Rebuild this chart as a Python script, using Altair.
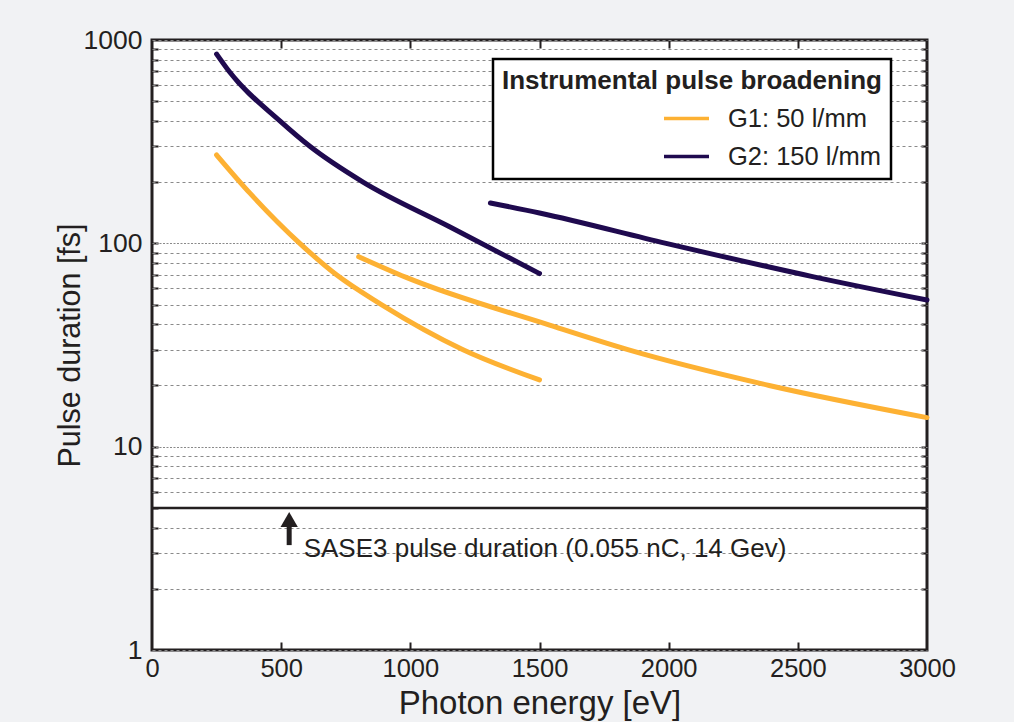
import altair as alt
import pandas as pd

# ---- data ----
g1a_x = [250, 380, 572, 714, 888, 1204, 1500]
g1a_y = [272, 176, 100, 70, 50, 30, 21.3]
g1b_x = [800, 984, 1539, 1842, 2389, 3000]
g1b_y = [86, 68, 39.6, 30, 20, 13.9]
g2a_x = [250, 299, 495, 611, 817, 1150, 1500]
g2a_y = [853, 700, 400, 300, 200, 121, 71]
g2b_x = [1310, 1500, 1990, 2557, 3000]
g2b_y = [158, 141, 100, 68.6, 52.6]

series_names = ["G1: 50 l/mm", "G2: 150 l/mm"]
series_colors = ["#fdb133", "#1f0a4f"]

sase_level = [5]
arrow_x = [531]
arrow_shaft = [3.28, 4.2]
arrow_head = [4.38]
annot_x = [587]
annot_y = [3.13]
annot_text = ["SASE3 pulse duration (0.055 nC, 14 Gev)"]

y_major = [1, 10, 100, 1000]
y_minor = [2, 3, 4, 5, 6, 7, 8, 9, 20, 30, 40, 50, 60, 70, 80, 90,
           200, 300, 400, 500, 600, 700, 800, 900]
x_ticks = [0, 500, 1000, 1500, 2000, 2500, 3000]

W, H = 775, 610
FONT = "Liberation Sans"
TXT = "#231f20"

rows = []
for name, seg, xs, ys in [
    (series_names[0], "a1", g1a_x, g1a_y),
    (series_names[0], "b1", g1b_x, g1b_y),
    (series_names[1], "a2", g2a_x, g2a_y),
    (series_names[1], "b2", g2b_x, g2b_y),
]:
    for i, (x, y) in enumerate(zip(xs, ys)):
        rows.append({"series": name, "seg": seg, "order": i, "x": x, "y": y})
df = pd.DataFrame(rows)

xscale = alt.Scale(domain=[0, 3000], nice=False, zero=False)
yscale = alt.Scale(type="log", domain=[1, 1000], nice=False)

grid_vals = sorted(y_minor + [10, 100])

lines = alt.Chart(df).mark_line(strokeWidth=5, interpolate="monotone", strokeCap="round").encode(
    x=alt.X("x:Q", scale=xscale,
            axis=alt.Axis(orient="bottom", values=x_ticks, ticks=False, tickSize=0, grid=False,
                          domain=False, format="d", labelFontSize=25.5, labelFont=FONT,
                          labelColor=TXT, labelPadding=6, labelFlush=False, labelBound=False,
                          title="Photon energy [eV]",
                          titleFontSize=33, titleFont=FONT, titleFontWeight="normal",
                          titleColor=TXT, titleY=53, titleBaseline="middle")),
    y=alt.Y("y:Q", scale=yscale,
            axis=alt.Axis(orient="left", values=sorted(y_major + y_minor), ticks=False, tickSize=0,
                          domain=False, grid=True,
                          gridColor="#8a8a8a", gridWidth=1.2,
                          gridDash={"condition": {"test": "datum.value == 10 || datum.value == 100",
                                                  "value": [2, 1.5]},
                                    "value": [3, 3]},
                          labelExpr="indexof([1,10,100,1000], datum.value) >= 0 ? format(datum.value, 'd') : ''",
                          labelOverlap=False, labelFontSize=26.5, labelFont=FONT, labelColor=TXT,
                          labelPadding=10, labelBound=False, labelFlush=False,
                          title="Pulse duration [fs]", titleFontSize=30.5, titleFont=FONT,
                          titleFontWeight="normal", titleColor=TXT,
                          titleX=-82, titleY=H / 2, titleBaseline="middle", titleAngle=270)),
    color=alt.Color("series:N",
                    scale=alt.Scale(domain=series_names, range=series_colors),
                    legend=alt.Legend(title="Instrumental pulse broadening", orient="none",
                                      legendX=341, legendY=19, symbolType="stroke",
                                      symbolSize=2025, symbolStrokeWidth=3.5, symbolOffset=160,
                                      labelOffset=17, labelFontSize=25.5, labelFont=FONT,
                                      labelColor=TXT, titleFontSize=26, titleFont=FONT,
                                      titleFontWeight="bold", titleColor=TXT, titleLimit=600,
                                      labelLimit=400, padding=9, fillColor="white",
                                      strokeColor="black", rowPadding=0, titlePadding=0)),
    detail="seg:N",
    order="order:Q",
)

# inward edge ticks drawn as grid lines with a dash pattern, on the opposite-side axes
edge_y = alt.Chart(pd.DataFrame({"y": grid_vals})).mark_point(opacity=0).encode(
    y=alt.Y("y:Q", scale=yscale,
            axis=alt.Axis(orient="right", values=grid_vals, labels=False, ticks=False, tickSize=0,
                          domain=False, grid=True, gridColor="#231f20", gridWidth=1.8,
                          gridDash=[6, W - 12], title=None)),
)
edge_x = alt.Chart(pd.DataFrame({"x": x_ticks[1:-1]})).mark_point(opacity=0).encode(
    x=alt.X("x:Q", scale=xscale,
            axis=alt.Axis(orient="top", values=x_ticks[1:-1], labels=False, ticks=False,
                          tickSize=0, domain=False, grid=True, gridColor="#231f20", gridWidth=2,
                          gridDash=[8, H - 16], title=None)),
)

sase = alt.Chart(pd.DataFrame({"y": sase_level})).mark_rule(color="#231f20", strokeWidth=2.5).encode(
    y=alt.Y("y:Q", scale=yscale, axis=None)
)

shaft = alt.Chart(pd.DataFrame({"x": arrow_x, "y": [arrow_shaft[0]], "y2": [arrow_shaft[1]]})).mark_rule(
    color="#231f20", strokeWidth=5).encode(
    x=alt.X("x:Q", scale=xscale, axis=None), y=alt.Y("y:Q", scale=yscale, axis=None), y2="y2:Q")
head = alt.Chart(pd.DataFrame({"x": arrow_x, "y": arrow_head})).mark_point(
    shape="triangle-up", filled=True, color="#231f20", size=300, opacity=1).encode(
    x=alt.X("x:Q", scale=xscale, axis=None), y=alt.Y("y:Q", scale=yscale, axis=None))

annot = alt.Chart(pd.DataFrame({"x": annot_x, "y": annot_y, "t": annot_text})).mark_text(
    align="left", baseline="middle", fontSize=26, font=FONT, color=TXT).encode(
    x=alt.X("x:Q", scale=xscale, axis=None), y=alt.Y("y:Q", scale=yscale, axis=None), text="t:N")

chart = alt.layer(edge_y, edge_x, sase, lines, shaft, head, annot).resolve_axis(
    x="independent", y="independent"
).properties(
    width=W, height=H,
    autosize=alt.AutoSizeParams(type="none"),
    padding={"left": 152, "top": 40, "right": 87, "bottom": 72},
    background="#f1f2f4",
).configure_view(
    fill="white", stroke="#231f20", strokeWidth=3
).configure_legend(
    strokeWidth=2.5
)

chart.save("out.html", embed_options={"renderer": "svg", "actions": False})
